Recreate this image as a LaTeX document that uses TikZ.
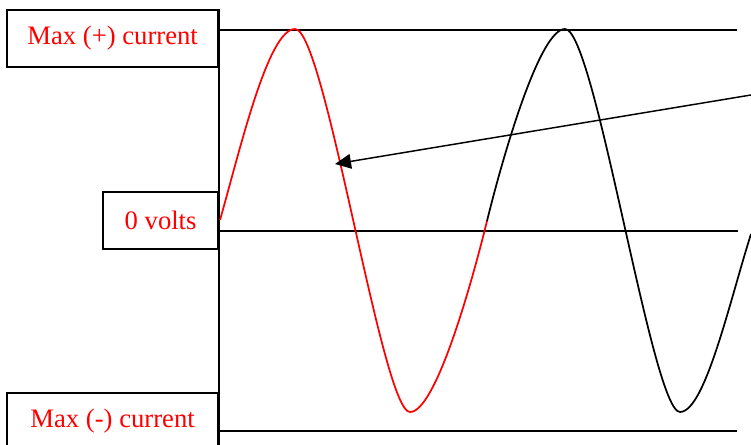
\documentclass[tikz,border=0pt]{standalone}
\usepackage{fontspec}
\setmainfont{Liberation Serif}
\usepackage{tikz}
\usetikzlibrary{arrows.meta,positioning}
\definecolor{wavered}{HTML}{FF0000}

\begin{document}
\begin{tikzpicture}[x=0.75pt, y=-0.75pt,
  labelbox/.style={draw, line width=1.3pt, minimum width=158.3pt, minimum height=42.8pt, inner sep=0pt, align=center, text=wavered, font=\fontsize{20}{24}\selectfont, anchor=north east},
  level/.style={line width=1.3pt},
  wave/.style={line width=1.3pt},
  arr/.style={-{Triangle[length=12pt, width=11pt]}, line width=1.1pt}
]
  \useasboundingbox (0,0) rectangle (751,445);

  \node[labelbox] (maxpos) at (219,9) {Max (+) current};
  \node[labelbox, minimum width=86.3pt] (zero) at (219,191) {0 volts};
  \node[labelbox] (maxneg) at (219,392) {Max (-) current};

  % axis and levels
  \coordinate (axisend) at (219,445);
  \coordinate (plusstart) at (219,30);
  \coordinate (plusend) at (737,30);
  \coordinate (zerostart) at (219,231);
  \coordinate (zeroend) at (738,231);
  \coordinate (minusstart) at (219,431);
  \coordinate (minusend) at (737,431);
  \draw[level] (maxpos.north east) -- (axisend);
  \draw[level] (plusstart) -- (plusend);
  \draw[level] (zerostart) -- (zeroend);
  \draw[level] (minusstart) -- (minusend);

  % the wave
  \draw[wave, wavered] (220,220) .. controls (240,150) and (268,29) .. (295,29)
    .. controls (325,29) and (382,412) .. (410,412)
    .. controls (435,412) and (470,290) .. (487,221);
  \draw[wave] (487,221) .. controls (504,152) and (540,29) .. (565,29)
    .. controls (595,29) and (652,412) .. (680,412)
    .. controls (705,412) and (730,300) .. (751,234);

  \coordinate (arrstart) at (751,95);
  \coordinate (arrtip) at (335,164);
  \draw[arr] (arrstart) -- (arrtip);
\end{tikzpicture}
\end{document}
